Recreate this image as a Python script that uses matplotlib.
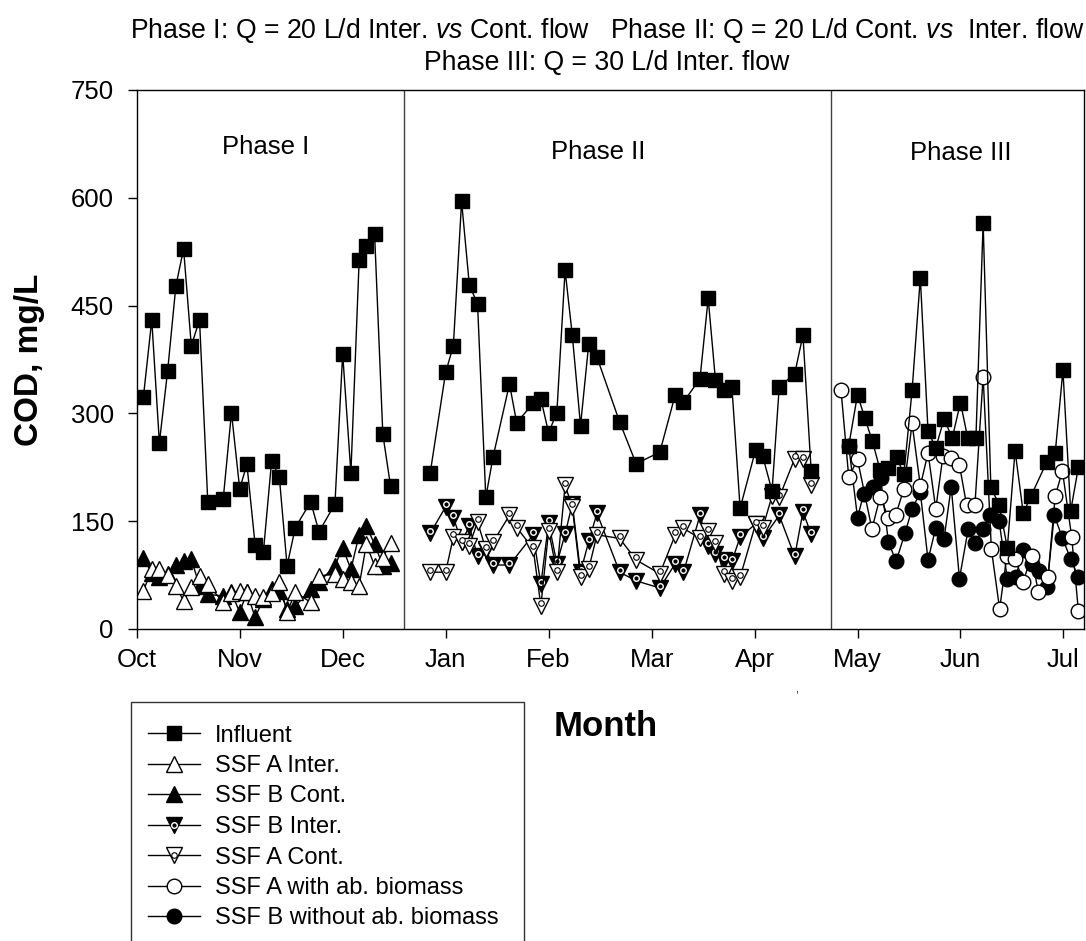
import matplotlib
matplotlib.use("Agg")
import matplotlib.pyplot as plt
from matplotlib.lines import Line2D
from matplotlib.patches import Rectangle
from matplotlib.legend_handler import HandlerTuple
from matplotlib.transforms import ScaledTranslation

plt.rcParams["font.family"] = ["Liberation Sans", "DejaVu Sans"]
plt.rcParams["mathtext.fontset"] = "custom"
plt.rcParams["mathtext.rm"] = "Liberation Sans"
plt.rcParams["mathtext.it"] = "Liberation Sans:italic"

# x positions are in months counted from the start of October
month_labels = ["Oct", "Nov", "Dec", "Jan", "Feb", "Mar", "Apr", "May", "Jun", "Jul"]
phase_breaks = [2.60, 6.74]

# Phase I
p1_x = [0.065, 0.146, 0.22, 0.30, 0.38, 0.455, 0.53, 0.61, 0.69, 0.84, 0.92, 1.0, 1.07, 1.15,
        1.23, 1.31, 1.385, 1.46, 1.54, 1.69, 1.77, 1.925, 2.0, 2.08, 2.16, 2.23, 2.31, 2.39, 2.465]
p1_influent = [323, 430, 259, 359, 477, 529, 394, 430, 177, 181, 301, 195, 229, 117,
               107, 234, 211, 88, 141, 177, 135, 174, 383, 217, 513, 533, 550, 271, 199]
p1_a_inter = [53, 83, 83, 75, 60, 39, 58, 74, 62, 37, 50, 53, 51, 46,
              45, 50, 65, 23, 51, 37, 74, 76, 69, 65, 60, 118, 88, 99, 120]
p1_b_cont = [99, 78, 72, 76, 89, 94, 97, 60, 48, 46, 51, 23, 51, 16,
             42, 55, 53, 28, 32, 55, 65, 88, 113, 83, 131, 143, 118, 88, 92]

# Phase II
p2_x = [2.85, 3.0, 3.075, 3.155, 3.23, 3.31, 3.39, 3.46, 3.62, 3.69, 3.85, 3.925, 4.0,
        4.08, 4.16, 4.23, 4.31, 4.39, 4.47, 4.69, 4.85, 5.08, 5.23, 5.31, 5.47, 5.55,
        5.62, 5.70, 5.78, 5.86, 6.01, 6.08, 6.17, 6.24, 6.39, 6.47, 6.55]
p2_influent = [217, 357, 394, 595, 479, 452, 183, 239, 341, 287, 314, 320, 273,
               301, 499, 409, 283, 397, 378, 288, 230, 246, 326, 316, 348, 460,
               347, 333, 337, 168, 249, 240, 192, 337, 355, 409, 220]
p2_a_cont = [79, 79, 128, 121, 116, 149, 111, 121, 158, 141, 112, 32, 137,
             79, 200, 170, 72, 84, 131, 126, 96, 77, 131, 140, 126, 136,
             119, 77, 67, 72, 146, 141, 185, 183, 237, 236, 200]
p2_b_x = [2.85, 3.0, 3.075, 3.155, 3.23, 3.31, 3.39, 3.46, 3.62, 3.85, 3.925, 4.0,
          4.08, 4.16, 4.23, 4.31, 4.39, 4.47, 4.69, 4.85, 5.08, 5.23, 5.31, 5.47,
          5.55, 5.62, 5.70, 5.78, 5.86, 6.01, 6.08, 6.24, 6.39, 6.47, 6.55]
p2_b_inter = [133, 170, 155, 121, 143, 101, 110, 89, 89, 131, 62, 148,
              91, 132, 174, 79, 122, 161, 79, 67, 57, 91, 79, 158,
              116, 104, 96, 94, 128, 146, 126, 158, 101, 163, 132]

# Phase III
p3_inf_x = [6.915, 7.0, 7.07, 7.145, 7.22, 7.30, 7.38, 7.45, 7.53, 7.61, 7.685, 7.76, 7.84,
            7.92, 8.0, 8.07, 8.15, 8.22, 8.295, 8.375, 8.455, 8.53, 8.61, 8.685, 8.84,
            8.92, 8.995, 9.07, 9.145]
p3_influent = [255, 326, 294, 261, 221, 224, 239, 215, 332, 489, 275, 252, 292,
               266, 315, 266, 266, 565, 197, 173, 113, 248, 161, 185, 233,
               245, 360, 164, 225]
p3_a_x = [6.84, 6.915, 7.0, 7.14, 7.22, 7.30, 7.37, 7.45, 7.53, 7.61, 7.685, 7.76, 7.83,
          7.91, 7.99, 8.06, 8.14, 8.22, 8.30, 8.38, 8.45, 8.53, 8.61, 8.69, 8.755, 8.85,
          8.92, 8.99, 9.08, 9.145]
p3_a_biomass = [332, 211, 236, 139, 184, 155, 158, 195, 286, 199, 245, 167, 241,
                238, 228, 172, 172, 351, 111, 28, 101, 98, 66, 102, 52, 73,
                185, 220, 128, 25]
p3_b_x = [6.915, 7.0, 7.06, 7.15, 7.225, 7.30, 7.375, 7.46, 7.53, 7.61, 7.685, 7.76, 7.84,
          7.91, 7.99, 8.075, 8.14, 8.22, 8.29, 8.375, 8.455, 8.535, 8.61, 8.69, 8.765,
          8.84, 8.91, 8.99, 9.07, 9.145]
p3_b_no_biomass = [255, 155, 188, 198, 210, 121, 94, 133, 167, 190, 96, 141, 125,
                   198, 70, 139, 119, 139, 159, 150, 70, 72, 110, 90, 81,
                   58, 158, 127, 97, 72]

fig = plt.figure(figsize=(10.86, 9.41), dpi=100)
ax = fig.add_axes([0.1259, 0.3316, 0.8723, 0.5728])

line_kw = dict(color="black", lw=1.0, mec="black", mew=1.0)
sq = dict(marker="s", ms=10.5, mfc="black", **line_kw)
tri_open = dict(marker="^", ms=11, mfc="white", **line_kw)
tri_fill = dict(marker="^", ms=11, mfc="black", **line_kw)
dn_open = dict(marker="v", ms=11, mfc="white", **line_kw)
dn_fill = dict(marker="v", ms=11, mfc="black", **line_kw)
circ_open = dict(marker="o", ms=10.5, mfc="white", **line_kw)
circ_fill = dict(marker="o", ms=10.5, mfc="black", **line_kw)
dot_on_fill = dict(ls="none", marker="o", ms=4, mfc="black", mec="white", mew=1.0)
dot_on_open = dict(ls="none", marker="o", ms=4, mfc="white", mec="black", mew=0.8)

# small dot sits near the centroid of the down triangles
dot_shift = ax.transData + ScaledTranslation(0, 1.8 / 72, fig.dpi_scale_trans)

ax.plot(p1_x, p1_b_cont, **tri_fill)
ax.plot(p1_x, p1_a_inter, **tri_open)
ax.plot(p2_b_x, p2_b_inter, **dn_fill)
ax.plot(p2_b_x, p2_b_inter, transform=dot_shift, **dot_on_fill)
ax.plot(p2_x, p2_a_cont, **dn_open)
ax.plot(p2_x, p2_a_cont, transform=dot_shift, **dot_on_open)
ax.plot(p3_b_x, p3_b_no_biomass, **circ_fill)
ax.plot(p3_a_x, p3_a_biomass, **circ_open)
ax.plot(p1_x, p1_influent, **sq)
ax.plot(p2_x, p2_influent, **sq)
ax.plot(p3_inf_x, p3_influent, **sq)

for xb in phase_breaks:
    ax.axvline(xb, color="0.25", lw=1.0)

ax.text(1.25, 671, "Phase I", ha="center", va="center", fontsize=18.5)
ax.text(4.48, 664, "Phase II", ha="center", va="center", fontsize=18.5)
ax.text(8.0, 662, "Phase III", ha="center", va="center", fontsize=18.5)

ax.set_xlim(0, 9.2)
ax.set_ylim(0, 750)
ax.set_xticks(range(len(month_labels)))
ax.set_xticklabels(month_labels)
ax.set_yticks([0, 150, 300, 450, 600, 750])
ax.tick_params(direction="out", length=6.5, width=1.0, labelsize=18.5)
ax.tick_params(axis="x", pad=7)
ax.tick_params(axis="y", pad=10)
for s in ax.spines.values():
    s.set_linewidth(1.0)

fig.text(0.559, 0.968,
         r"Phase I: Q = 20 L/d Inter. $\mathit{vs}$ Cont. flow   Phase II: Q = 20 L/d Cont. $\mathit{vs}$  Inter. flow",
         ha="center", va="center", fontsize=19.2)
fig.text(0.559, 0.933, "Phase III: Q = 30 L/d Inter. flow", ha="center", va="center", fontsize=19.2)

fig.text(30 / 1086, 1 - 360 / 941, "COD, mg/L", rotation=90, ha="center", va="center",
         fontsize=24, fontweight="bold")
fig.text(606 / 1086, 1 - 727 / 941, "Month", ha="center", va="center",
         fontsize=25, fontweight="bold")
fig.text(797 / 1086, 1 - 690 / 941, ",", ha="center", va="center", fontsize=8)

legend_handles = [
    Line2D([], [], **sq),
    Line2D([], [], **tri_open),
    Line2D([], [], **tri_fill),
    (Line2D([], [], **dn_fill), Line2D([], [], **dot_on_fill)),
    (Line2D([], [], **dn_open), Line2D([], [], **dot_on_open)),
    Line2D([], [], **circ_open),
    Line2D([], [], **circ_fill),
]
legend_labels = ["Influent", "SSF A Inter.", "SSF B Cont.", "SSF B Inter.", "SSF A Cont.",
                 "SSF A with ab. biomass", "SSF B without ab. biomass"]
# the legend box runs past the bottom edge of the figure, so draw the frame separately
fig.patches.append(Rectangle((131 / 1086, -0.05), (524 - 131) / 1086, 0.05 + (941 - 702) / 941,
                             transform=fig.transFigure, fill=False, edgecolor="0.2", lw=1.0))
fig.legend(legend_handles, legend_labels, loc="upper left",
           bbox_to_anchor=(148 / 1086, 1 - 724.5 / 941), fontsize=17,
           frameon=False, borderaxespad=0, borderpad=0, handlelength=2.2,
           handletextpad=0.65, labelspacing=0.36,
           handler_map={tuple: HandlerTuple(ndivide=1)})

fig.savefig("out.png", dpi=100)
plt.close(fig)
